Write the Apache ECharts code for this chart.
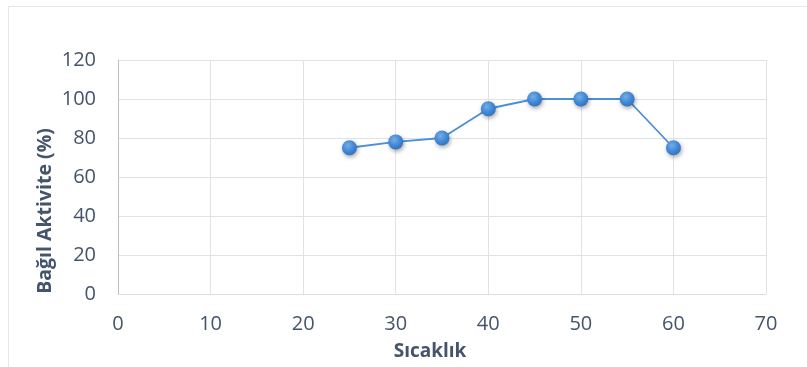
<!DOCTYPE html>
<html>
<head>
<meta charset="utf-8">
<script src="https://cdn.jsdelivr.net/npm/echarts@6/dist/echarts.min.js"></script>
<style>
html,body{margin:0;padding:0;background:#fff;}
#c{width:807px;height:367px;}
</style>
</head>
<body>
<div id="c"></div>
<script>
const temperatures = [25, 30, 35, 40, 45, 50, 55, 60];
const activity = [75, 78, 80, 95, 100, 100, 100, 75];
const xTitle = 'Sıcaklık';
const yTitle = 'Bağıl Aktivite (%)';

const chart = echarts.init(document.getElementById('c'));
const textColor = '#44546a';
const font = '"Open Sans", "Liberation Sans", sans-serif';
chart.setOption({
  backgroundColor: '#fff',
  animation: false,
  graphic: [{
    type: 'rect',
    shape: {x: 8.5, y: 6.5, width: 820, height: 400},
    style: {fill: 'none', stroke: '#e3e6ea', lineWidth: 1},
    z: -1
  }, {
    type: 'text', x: 430, y: 352,
    style: {text: xTitle, fill: textColor, font: 'bold 19px ' + font, align: 'center', verticalAlign: 'middle'}
  }, {
    type: 'text', x: 45, y: 211, rotation: Math.PI / 2,
    style: {text: yTitle, fill: textColor, font: 'bold 19.5px ' + font, align: 'center', verticalAlign: 'middle'}
  }],
  grid: {left: 118, right: 41, top: 60, bottom: 73},
  xAxis: {
    type: 'value', min: 0, max: 70, interval: 10,
    axisLine: {show: true, lineStyle: {color: '#d9dde3', width: 1}},
    axisTick: {show: false},
    axisLabel: {color: textColor, fontFamily: font, fontSize: 20, margin: 20},
    splitLine: {show: true, lineStyle: {color: '#dfe3e8', width: 1}}
  },
  yAxis: {
    type: 'value', min: 0, max: 120, interval: 20,
    axisLine: {show: true, lineStyle: {color: '#b9c0cb', width: 1}},
    axisTick: {show: false},
    axisLabel: {color: textColor, fontFamily: font, fontSize: 20, margin: 22},
    splitLine: {show: true, lineStyle: {color: '#dfe3e8', width: 1}}
  },
  series: [{
    type: 'line',
    data: temperatures.map((t, i) => [t, activity[i]]),
    symbol: 'circle',
    symbolSize: 15,
    lineStyle: {color: '#4a8fd8', width: 1.8},
    itemStyle: {
      color: new echarts.graphic.RadialGradient(0.4, 0.35, 0.7, [
        {offset: 0, color: '#74aee8'},
        {offset: 0.6, color: '#3f86d4'},
        {offset: 1, color: '#2f72bb'}
      ]),
      borderWidth: 0,
      shadowColor: 'rgba(0,0,0,0.35)',
      shadowBlur: 4,
      shadowOffsetX: 1,
      shadowOffsetY: 2
    }
  }]
});
</script>
</body>
</html>
